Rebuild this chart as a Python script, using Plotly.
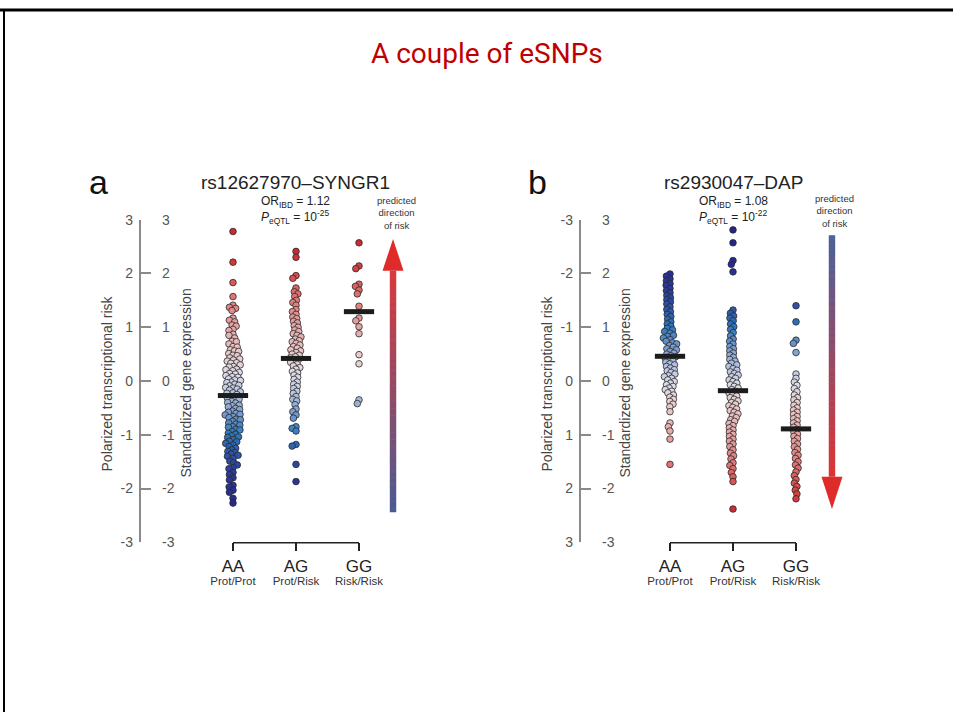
import plotly.graph_objects as go

W, H = 953, 720


def fx(p):
    return p / W


def fy(p):
    return 1 - p / H


# ---------------- data ----------------
CATS = ["AA", "AG", "GG"]
CAT_SUB = ["Prot/Prot", "Prot/Risk", "Risk/Risk"]
TICK_VALS = [-3, -2, -1, 0, 1, 2, 3]
TICK_TEXT = ["-3", "-2", "-1", "0", "1", "2", "3"]

SLIDE_TITLE = "A couple of eSNPs"
TITLE_A = "rs12627970\u2013SYNGR1"
TITLE_B = "rs2930047\u2013DAP"
STATS_A = ["OR<sub>IBD</sub> = 1.12", "<i>P</i><sub>eQTL</sub> = 10<sup>-25</sup>"]
STATS_B = ["OR<sub>IBD</sub> = 1.08", "<i>P</i><sub>eQTL</sub> = 10<sup>-22</sup>"]
LEFT_TITLE = "Polarized transcriptional risk"
RIGHT_TITLE = "Standardized gene expression"
ARROW_TEXT = "predicted<br>direction<br>of risk"

# panel a: standardized expression (= polarized risk)
A_AA = [2.78, 2.21, 1.83, 1.57, 1.41, 1.37, 1.35, 1.31, 1.17, 1.13, 1.10, 1.04, 1.02,
        0.96, 0.94, 0.87, 0.85, 0.80, 0.74, 0.73, 0.69, 0.64, 0.63, 0.58, 0.56, 0.55,
        0.51, 0.48, 0.47, 0.43, 0.41, 0.39, 0.37, 0.34, 0.33, 0.30, 0.27, 0.26, 0.22,
        0.21, 0.19, 0.16, 0.14, 0.13, 0.10, 0.08, 0.07, 0.04, 0.02, 0.01, -0.02, -0.03,
        -0.06, -0.08, -0.09, -0.12, -0.13, -0.15, -0.17, -0.20, -0.22, -0.23, -0.25,
        -0.29, -0.31, -0.33, -0.34, -0.38, -0.40, -0.41, -0.45, -0.46, -0.48, -0.51,
        -0.53, -0.56, -0.58, -0.60, -0.62, -0.63, -0.66, -0.68, -0.71, -0.72, -0.75,
        -0.78, -0.80, -0.82, -0.85, -0.86, -0.90, -0.91, -0.94, -0.97, -0.99, -1.02,
        -1.04, -1.05, -1.09, -1.12, -1.13, -1.16, -1.19, -1.22, -1.25, -1.28, -1.31,
        -1.33, -1.36, -1.38, -1.40, -1.44, -1.49, -1.52, -1.56, -1.61, -1.63, -1.70,
        -1.74, -1.80, -1.84, -1.94, -1.97, -2.03, -2.07, -2.18, -2.27]
A_AG = [2.41, 2.30, 1.96, 1.91, 1.73, 1.66, 1.62, 1.57, 1.50, 1.46, 1.41, 1.33, 1.29,
        1.24, 1.19, 1.16, 1.11, 1.08, 1.03, 1.00, 0.95, 0.92, 0.88, 0.85, 0.82, 0.78,
        0.75, 0.73, 0.70, 0.67, 0.64, 0.61, 0.58, 0.56, 0.53, 0.50, 0.48, 0.45, 0.43,
        0.40, 0.37, 0.35, 0.31, 0.28, 0.25, 0.22, 0.18, 0.15, 0.11, 0.07, 0.03, -0.02,
        -0.06, -0.10, -0.14, -0.19, -0.23, -0.29, -0.34, -0.37, -0.44, -0.52, -0.57,
        -0.63, -0.69, -0.85, -0.88, -0.93, -1.18, -1.21, -1.55, -1.87]
A_GG = [2.57, 2.14, 2.09, 1.80, 1.76, 1.69, 1.62, 1.39, 1.17, 1.12, 1.01, 0.88,
        0.49, 0.32, -0.35, -0.42]
A_MEAN = [-0.27, 0.42, 1.29]

# panel b: standardized expression (polarized risk = -expression)
B_AA = [1.99, 1.95, 1.90, 1.86, 1.81, 1.78, 1.72, 1.68, 1.64, 1.59, 1.55, 1.51, 1.47,
        1.43, 1.38, 1.33, 1.29, 1.24, 1.20, 1.15, 1.10, 1.06, 1.02, 0.98, 0.95, 0.92,
        0.89, 0.85, 0.83, 0.80, 0.77, 0.74, 0.71, 0.69, 0.66, 0.63, 0.60, 0.58, 0.55,
        0.52, 0.50, 0.47, 0.45, 0.43, 0.40, 0.37, 0.35, 0.32, 0.30, 0.27, 0.24, 0.21,
        0.19, 0.16, 0.13, 0.10, 0.08, 0.05, 0.02, -0.01, -0.04, -0.07, -0.10, -0.13,
        -0.16, -0.19, -0.22, -0.26, -0.30, -0.34, -0.38, -0.43, -0.48, -0.57, -0.78,
        -0.85, -0.93, -1.08, -1.55]
B_AG = [2.81, 2.57, 2.24, 2.17, 2.03, 1.32, 1.26, 1.21, 1.17, 1.12, 1.06, 1.01, 0.96,
        0.90, 0.84, 0.78, 0.74, 0.69, 0.64, 0.60, 0.56, 0.52, 0.48, 0.44, 0.40, 0.37,
        0.33, 0.30, 0.27, 0.23, 0.20, 0.17, 0.14, 0.11, 0.08, 0.05, 0.02, -0.01, -0.04,
        -0.07, -0.10, -0.13, -0.16, -0.19, -0.22, -0.25, -0.28, -0.31, -0.34, -0.37,
        -0.40, -0.43, -0.46, -0.49, -0.52, -0.55, -0.58, -0.61, -0.65, -0.68, -0.72,
        -0.75, -0.79, -0.83, -0.87, -0.91, -0.95, -0.99, -1.03, -1.08, -1.12, -1.17,
        -1.22, -1.28, -1.34, -1.39, -1.45, -1.52, -1.57, -1.63, -1.70, -1.78, -1.87,
        -2.38]
B_GG = [1.40, 1.10, 0.76, 0.70, 0.53, 0.13, 0.05, -0.02, -0.08, -0.14, -0.20, -0.26,
        -0.31, -0.35, -0.40, -0.45, -0.50, -0.54, -0.58, -0.62, -0.66, -0.70, -0.74,
        -0.78, -0.82, -0.86, -0.90, -0.95, -0.99, -1.03, -1.07, -1.12, -1.17, -1.22,
        -1.27, -1.33, -1.38, -1.44, -1.50, -1.56, -1.62, -1.69, -1.76, -1.83, -1.90,
        -1.96, -2.03, -2.10, -2.19]
B_MEAN = [0.46, -0.18, -0.89]

# ---------------- styling ----------------
FONT = "Liberation Sans, Arial, Helvetica, sans-serif"
RISK_SCALE = [
    [0.000, "#26238a"], [0.146, "#2c3b9c"], [0.229, "#2d5aaa"], [0.292, "#2d78c0"],
    [0.375, "#7a9ccf"], [0.448, "#b8c4e0"], [0.521, "#dcdce8"], [0.604, "#ebcaca"],
    [0.708, "#e6a6a6"], [0.812, "#df7b7b"], [0.917, "#d64848"], [1.000, "#cc2a33"],
]
PX_PER_UNIT_Y = 55.0
PX_PER_CAT = 63.0
Y_TOP, Y_BOT = 216.5, 546.5

PANELS = [
    dict(xa="x", ya="y", xname="xaxis", yname="yaxis", axis_px=141, cat0_px=233,
         right_px=430, groups=[A_AA, A_AG, A_GG], means=A_MEAN, sign=1,
         title=TITLE_A, stats=STATS_A, letter="a", letter_px=(98, 178),
         title_px=(295, 178), stats_px=(295, 198, 214), arrow_text_px=(396, 210),
         ltitle_px=107, rtitle_px=186, arrow_x=2.54, arrow_top=2.64,
         arrow_base=2.05, arrow_bottom=-2.44, arrow_up=True,
         lab_left="yaxis3", lab_right="yaxis4", sub_x="xaxis5"),
    dict(xa="x2", ya="y2", xname="xaxis2", yname="yaxis2", axis_px=581, cat0_px=670,
         right_px=870, groups=[B_AA, B_AG, B_GG], means=B_MEAN, sign=-1,
         title=TITLE_B, stats=STATS_B, letter="b", letter_px=(537, 178),
         title_px=(733, 178), stats_px=(733, 198, 214), arrow_text_px=(834, 208),
         ltitle_px=547, rtitle_px=625, arrow_x=2.571, arrow_top=2.71,
         arrow_base=-1.78, arrow_bottom=-2.38, arrow_up=False,
         lab_left="yaxis5", lab_right="yaxis6", sub_x="xaxis6"),
]


def swarm(vals, d=4.2):
    order = sorted(range(len(vals)), key=lambda i: -vals[i])
    placed = []
    offs = [0.0] * len(vals)
    for i in order:
        y = vals[i] * PX_PER_UNIT_Y
        near = [(px, py) for px, py in placed if abs(py - y) < d]
        cands = [0.0]
        for px, py in near:
            dx = max(d * d - (py - y) ** 2, 0) ** 0.5
            cands += [px + dx, px - dx]
        cands.sort(key=lambda c: (abs(c), c))
        for c in cands:
            if all((c - px) ** 2 + (y - py) ** 2 >= d * d - 1e-6 for px, py in near):
                offs[i] = c
                break
        placed.append((offs[i], y))
    return offs


def mix(c1, c2, t):
    a = [int(c1[k:k + 2], 16) for k in (1, 3, 5)]
    b = [int(c2[k:k + 2], 16) for k in (1, 3, 5)]
    return "rgb(%d,%d,%d)" % tuple(round(a[j] + (b[j] - a[j]) * t) for j in range(3))


fig = go.Figure()
shapes = []
annotations = []
layout = {}

for P in PANELS:
    xs, ys, cs = [], [], []
    for gi, vals in enumerate(P["groups"]):
        offs = swarm(vals)
        for v, o in zip(vals, offs):
            xs.append(gi + o / PX_PER_CAT)
            ys.append(v)
            cs.append(P["sign"] * v)
    fig.add_trace(go.Scatter(
        x=xs, y=ys, xaxis=P["xa"], yaxis=P["ya"], mode="markers", cliponaxis=False,
        marker=dict(size=6.6, color=cs, colorscale=RISK_SCALE, cmin=-2.4, cmax=2.4,
                    line=dict(color="#2a2a2a", width=0.8)),
        showlegend=False, hoverinfo="skip"))
    mx, my = [], []
    for gi, m in enumerate(P["means"]):
        mx += [gi - 0.24, gi + 0.24, None]
        my += [m, m, None]
    fig.add_trace(go.Scatter(x=mx, y=my, xaxis=P["xa"], yaxis=P["ya"], mode="lines",
                             line=dict(color="#1c1c1c", width=5),
                             showlegend=False, hoverinfo="skip"))

    xr = [(P["axis_px"] - P["cat0_px"]) / PX_PER_CAT, (P["right_px"] - P["cat0_px"]) / PX_PER_CAT]
    dom_x = [fx(P["axis_px"]), fx(P["right_px"])]
    dom_y = [fy(Y_BOT), fy(Y_TOP)]
    layout[P["xname"]] = dict(domain=dom_x, range=xr, anchor=P["ya"], showline=False,
                              showgrid=False, zeroline=False, tickvals=[0, 1, 2],
                              ticktext=CATS, ticks="outside", ticklen=8, tickwidth=1.5,
                              tickcolor="#222", tickfont=dict(size=17, color="#222", family=FONT))
    layout[P["sub_x"]] = dict(overlaying=P["xa"], anchor=P["ya"], range=xr, showline=False,
                              showgrid=False, zeroline=False, tickvals=[0, 1, 2],
                              ticktext=CAT_SUB, ticks="", ticklabelstandoff=30,
                              tickfont=dict(size=11.5, color="#333", family=FONT))
    layout[P["yname"]] = dict(domain=dom_y, range=[-3, 3], anchor=P["xa"], showline=True,
                              linecolor="#8a8a8a", linewidth=1.5, ticks="inside", ticklen=10,
                              tickwidth=1.5, tickcolor="#8a8a8a", tickvals=TICK_VALS,
                              showticklabels=False, showgrid=False, zeroline=False)
    left_range = [-3, 3] if P["sign"] == 1 else [3, -3]
    layout[P["lab_left"]] = dict(overlaying=P["ya"], anchor="free", position=fx(P["axis_px"]),
                                 side="left", range=left_range, tickvals=TICK_VALS,
                                 ticktext=TICK_TEXT, ticks="", showline=False, showgrid=False,
                                 zeroline=False, ticklabelstandoff=8,
                                 tickfont=dict(size=14, color="#555", family=FONT))
    layout[P["lab_right"]] = dict(overlaying=P["ya"], anchor="free", position=fx(P["axis_px"]),
                                  side="right", range=[-3, 3], tickvals=TICK_VALS,
                                  ticktext=TICK_TEXT, ticks="", showline=False, showgrid=False,
                                  zeroline=False, ticklabelstandoff=20,
                                  tickfont=dict(size=14, color="#555", family=FONT))
    # dummy traces so overlay axes are drawn
    fig.add_trace(go.Scatter(x=[None], y=[None], xaxis=P["xa"], yaxis=P["lab_left"].replace("axis", ""),
                             showlegend=False, hoverinfo="skip"))
    fig.add_trace(go.Scatter(x=[None], y=[None], xaxis=P["xa"], yaxis=P["lab_right"].replace("axis", ""),
                             showlegend=False, hoverinfo="skip"))
    fig.add_trace(go.Scatter(x=[None], y=[None], xaxis=P["sub_x"].replace("axis", ""), yaxis=P["ya"],
                             showlegend=False, hoverinfo="skip"))

    # bracket line under the genotypes
    shapes.append(dict(type="line", xref=P["xa"], yref="paper", x0=0, x1=2,
                       y0=fy(Y_BOT + 0.5), y1=fy(Y_BOT + 0.5), line=dict(color="#222", width=1.5)))

    # gradient arrow
    ax = P["arrow_x"]
    hw_shaft = 3.2 / PX_PER_CAT
    hw_head = 10.5 / PX_PER_CAT
    if P["arrow_up"]:
        s0, s1 = P["arrow_bottom"], P["arrow_base"]
        c_lo, c_hi = "#4a5b93", "#d93a3a"
        tip, base = P["arrow_top"], P["arrow_base"]
    else:
        s0, s1 = P["arrow_base"], P["arrow_top"]
        c_lo, c_hi = "#dd3434", "#4a6299"
        tip, base = P["arrow_bottom"], P["arrow_base"]
    n = 70
    for k in range(n):
        y0 = s0 + (s1 - s0) * k / n
        y1 = s0 + (s1 - s0) * (k + 1) / n + 0.01
        shapes.append(dict(type="rect", xref=P["xa"], yref=P["ya"], x0=ax - hw_shaft,
                           x1=ax + hw_shaft, y0=y0, y1=min(y1, s1), line=dict(width=0),
                           fillcolor=mix(c_lo, c_hi, (k + 0.5) / n), layer="below"))
    shapes.append(dict(type="path", xref=P["xa"], yref=P["ya"],
                       path="M %f,%f L %f,%f L %f,%f Z" % (ax - hw_head, base, ax + hw_head, base, ax, tip),
                       fillcolor="#e02b2b", line=dict(width=0), layer="below"))

    # texts
    annotations.append(dict(text=P["letter"], x=fx(P["letter_px"][0]), y=fy(P["letter_px"][1]),
                            xref="paper", yref="paper", showarrow=False, xanchor="center",
                            yanchor="middle", font=dict(size=34, color="#111", family=FONT)))
    annotations.append(dict(text=P["title"], x=fx(P["title_px"][0]), y=fy(P["title_px"][1]),
                            xref="paper", yref="paper", showarrow=False, xanchor="center",
                            yanchor="middle", font=dict(size=19, color="#222", family=FONT)))
    for line_txt, ypx in zip(P["stats"], P["stats_px"][1:]):
        annotations.append(dict(text=line_txt, x=fx(P["stats_px"][0]), y=fy(ypx),
                                xref="paper", yref="paper", showarrow=False, xanchor="center",
                                yanchor="middle", font=dict(size=12, color="#222", family=FONT)))
    annotations.append(dict(text=ARROW_TEXT, x=fx(P["arrow_text_px"][0]), y=fy(P["arrow_text_px"][1]),
                            xref="paper", yref="paper", showarrow=False, xanchor="center",
                            yanchor="middle", align="center",
                            font=dict(size=9.5, color="#333", family=FONT)))
    annotations.append(dict(text=LEFT_TITLE, x=fx(P["ltitle_px"]), y=fy(384), textangle=-90,
                            xref="paper", yref="paper", showarrow=False, xanchor="center",
                            yanchor="middle", font=dict(size=14, color="#444", family=FONT)))
    annotations.append(dict(text=RIGHT_TITLE, x=fx(P["rtitle_px"]), y=fy(384), textangle=-90,
                            xref="paper", yref="paper", showarrow=False, xanchor="center",
                            yanchor="middle", font=dict(size=14, color="#444", family=FONT)))

annotations.append(dict(text=SLIDE_TITLE, x=fx(487), y=fy(47), xref="paper", yref="paper",
                        showarrow=False, xanchor="center", yanchor="middle",
                        font=dict(size=28, color="#c00000",
                                  family="Liberation Sans Narrow, Roboto, sans-serif")))

# slide frame
shapes.append(dict(type="line", xref="paper", yref="paper", x0=0, x1=1, y0=fy(2), y1=fy(2),
                   line=dict(color="#000", width=3)))
shapes.append(dict(type="line", xref="paper", yref="paper", x0=fx(4), x1=fx(4), y0=0, y1=fy(1),
                   line=dict(color="#000", width=2)))

fig.update_layout(width=W, height=H, margin=dict(l=0, r=0, t=0, b=0),
                  paper_bgcolor="white", plot_bgcolor="rgba(0,0,0,0)",
                  shapes=shapes, annotations=annotations, showlegend=False,
                  font=dict(family=FONT), **layout)

fig.write_html("out.html", config={"displayModeBar": False},
               post_script="document.body.style.margin='0';")
